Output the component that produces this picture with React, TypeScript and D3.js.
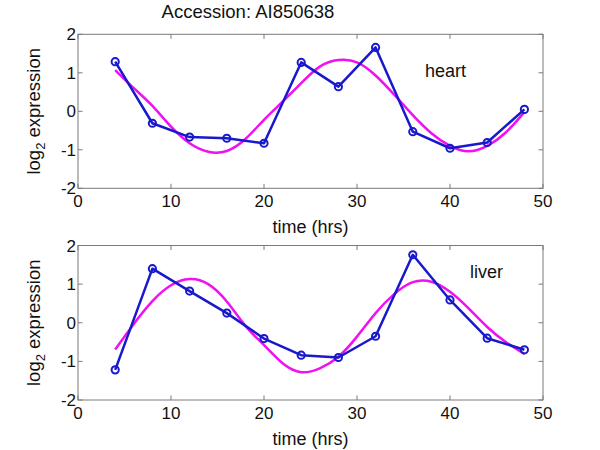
import React from "react";
import * as d3 from "d3";

const times = [4, 8, 12, 16, 20, 24, 28, 32, 36, 40, 44, 48];
const heartValues = [1.29, -0.31, -0.67, -0.7, -0.83, 1.27, 0.64, 1.66, -0.53, -0.96, -0.81, 0.05];
const liverValues = [-1.22, 1.4, 0.82, 0.25, -0.41, -0.84, -0.9, -0.35, 1.76, 0.59, -0.4, -0.7];

const fitTimes = [4, 6, 8, 10, 12, 14, 16, 18, 20, 22, 24, 26, 28, 30, 32, 34, 36, 38, 40, 42, 44, 46, 48];
const heartFit = [1.07, 0.6, 0.14, -0.4, -0.83, -1.05, -1.03, -0.72, -0.22, 0.25, 0.73, 1.16, 1.33, 1.27, 0.93, 0.43, -0.1, -0.57, -0.9, -1.04, -0.9, -0.55, -0.02];
const liverFit = [-0.69, -0.03, 0.56, 0.97, 1.13, 1.0, 0.55, -0.08, -0.58, -1.05, -1.28, -1.18, -0.88, -0.36, 0.25, 0.74, 1.05, 1.06, 0.8, 0.37, -0.11, -0.5, -0.81];

const xTicks = [0, 10, 20, 30, 40, 50];
const yTicks = [-2, -1, 0, 1, 2];

const title = "Accession: AI850638";
const xLabel = "time (hrs)";

const FONT = "Arial, 'Liberation Sans', Helvetica, sans-serif";
const BLUE = "#1818cc";
const MAGENTA = "#f010f0";
const GRAY = "#7a7a7a";

type PanelProps = {
  top: number;
  bottom: number;
  values: number[];
  fit: number[];
  label: string;
  labelX: number;
  labelY: number;
};

const LEFT = 78;
const RIGHT = 543;

function Panel({ top, bottom, values, fit, label, labelX, labelY }: PanelProps) {
  const x = d3.scaleLinear().domain([0, 50]).range([LEFT, RIGHT]);
  const y = d3.scaleLinear().domain([-2, 2]).range([bottom, top]);
  const line = d3
    .line<number>()
    .x((_, i) => x(times[i]))
    .y((d) => y(d));
  const fitLine = d3
    .line<number>()
    .x((_, i) => x(fitTimes[i]))
    .y((d) => y(d))
    .curve(d3.curveNatural);
  const tl = 4.5;
  const midY = (top + bottom) / 2;
  return (
    <g>
      <rect x={LEFT} y={top} width={RIGHT - LEFT} height={bottom - top} fill="white" stroke={GRAY} strokeWidth={1} />
      {xTicks.map((t) => (
        <g key={"x" + t}>
          <line x1={x(t)} x2={x(t)} y1={bottom} y2={bottom - tl} stroke={GRAY} />
          <line x1={x(t)} x2={x(t)} y1={top} y2={top + tl} stroke={GRAY} />
          <text x={x(t)} y={bottom + 19} textAnchor="middle" fontSize={17} fontFamily={FONT} fill="#111">
            {t}
          </text>
        </g>
      ))}
      {yTicks.map((t) => (
        <g key={"y" + t}>
          <line x1={LEFT} x2={LEFT + tl} y1={y(t)} y2={y(t)} stroke={GRAY} />
          <line x1={RIGHT} x2={RIGHT - tl} y1={y(t)} y2={y(t)} stroke={GRAY} />
          <text x={LEFT - 2} y={y(t) + 6} textAnchor="end" fontSize={17} fontFamily={FONT} fill="#111">
            {t}
          </text>
        </g>
      ))}
      <path d={fitLine(fit) || ""} fill="none" stroke={MAGENTA} strokeWidth={2.5} />
      <path d={line(values) || ""} fill="none" stroke={BLUE} strokeWidth={2.5} strokeLinejoin="round" />
      {values.map((v, i) => (
        <circle key={i} cx={x(times[i])} cy={y(v)} r={3.6} fill="none" stroke={BLUE} strokeWidth={2} />
      ))}
      <text x={labelX} y={labelY} fontSize={18} fontFamily={FONT} fill="#111">
        {label}
      </text>
      <text x={(LEFT + RIGHT) / 2} y={bottom + 45} textAnchor="middle" fontSize={18} fontFamily={FONT} fill="#111">
        {xLabel}
      </text>
      <text
        transform={`translate(40,${midY}) rotate(-90)`}
        textAnchor="middle"
        fontSize={18.5}
        fontFamily={FONT}
        fill="#111"
      >
        log
        <tspan fontSize={13} dy={5}>2</tspan>
        <tspan dy={-5}> expression</tspan>
      </text>
    </g>
  );
}

export default function App() {
  return (
    <svg
      width={600}
      height={450}
      viewBox="0 0 600 450"
      style={{ position: "absolute", left: 0, top: 0, background: "white" }}
    >
      <rect width={600} height={450} fill="white" />
      <text x={248} y={18} textAnchor="middle" fontSize={18.5} fontFamily={FONT} fill="#111">
        {title}
      </text>
      <Panel top={34.3} bottom={188.3} values={heartValues} fit={heartFit} label="heart" labelX={425} labelY={77} />
      <Panel top={245.5} bottom={400} values={liverValues} fit={liverFit} label="liver" labelX={470} labelY={278} />
    </svg>
  );
}
